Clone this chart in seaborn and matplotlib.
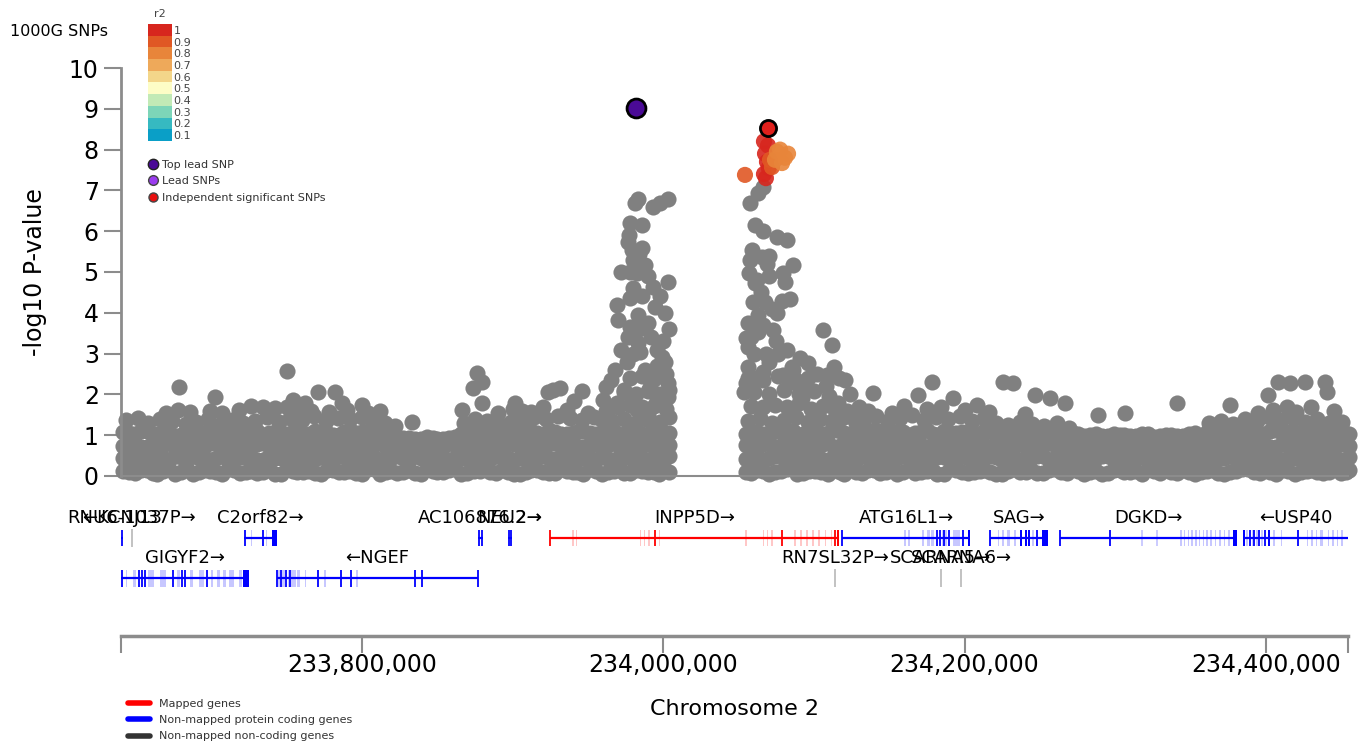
"""
Regional association plot (LocusZoom style) around INPP5D, chromosome 2.
"""

import numpy as np
import pandas as pd
import matplotlib
matplotlib.use("Agg")
import matplotlib.pyplot as plt
from matplotlib.colors import ListedColormap
from matplotlib.lines import Line2D
from matplotlib.ticker import FuncFormatter
import seaborn as sns

# every position below is a kb offset from chr2:233,600,000
ORIGIN_KB = 233600
XLIM_KB = (40, 854.5)

# ---- dense background band of SNPs (-log10 P below ~1.6) ----
band_kb_a = [41, 49, 57, 64, 72, 80, 88, 95, 103, 111, 119, 126, 134, 142, 150, 157, 165, 173, 181, 188,
             196, 204, 212, 219, 227, 235, 243, 250, 258, 266, 274, 281, 289, 297, 305, 312, 320, 328, 336, 343,
             351, 359, 367, 374, 382, 390, 397, 404,
             455, 462, 470, 478, 486, 493, 501, 509, 517, 524, 532, 540, 548, 555, 563, 571, 579, 586, 594, 602,
             610, 617, 625, 633, 641, 648, 656, 664, 672, 679, 687, 695, 703, 710, 718, 726, 734, 741, 749, 757,
             765, 772, 780, 788, 796, 803, 811, 819, 827, 834, 842, 850, 855]
band_kb_b = [45, 53, 61, 68, 76, 84, 92, 99, 107, 115, 123, 130, 138, 146, 154, 161, 169, 177, 185, 192,
             200, 208, 216, 223, 231, 239, 247, 254, 262, 270, 278, 285, 293, 301, 309, 316, 324, 332, 340, 347,
             355, 363, 371, 378, 386, 394, 401,
             458, 466, 474, 482, 489, 497, 505, 513, 520, 528, 536, 544, 551, 559, 567, 575, 582, 590, 598, 606,
             613, 621, 629, 637, 644, 652, 660, 668, 675, 683, 691, 699, 706, 714, 722, 730, 737, 745, 753, 761,
             768, 776, 784, 792, 799, 807, 815, 823, 830, 838, 846, 853]
# rows on band_kb_a
band_lp_1 = [0.12, 0.08, 0.15, 0.06, 0.18, 0.10, 0.05, 0.14, 0.09, 0.17, 0.07, 0.13, 0.11, 0.04, 0.16, 0.09,
             0.12, 0.06, 0.15, 0.10, 0.08, 0.18, 0.05, 0.13, 0.11, 0.07, 0.16, 0.09, 0.14, 0.06, 0.12, 0.17,
             0.08, 0.10, 0.05, 0.15, 0.11, 0.07, 0.13, 0.09, 0.16, 0.06, 0.12, 0.08, 0.14, 0.10, 0.05, 0.11,
             0.09, 0.15, 0.06, 0.12, 0.18, 0.08, 0.13, 0.05, 0.10, 0.16, 0.07, 0.14, 0.11, 0.06, 0.17, 0.09,
             0.12, 0.05, 0.15, 0.08, 0.13, 0.10, 0.06, 0.16, 0.11, 0.07, 0.14, 0.09, 0.18, 0.05, 0.12, 0.08,
             0.15, 0.10, 0.06, 0.13, 0.17, 0.07, 0.11, 0.09, 0.14, 0.05, 0.12, 0.16, 0.08, 0.10, 0.15, 0.06,
             0.13, 0.09, 0.11, 0.07, 0.14]
band_lp_3 = [0.74, 0.79, 0.71, 0.77, 0.82, 0.73, 0.76, 0.70, 0.80, 0.75, 0.78, 0.72, 0.81, 0.74, 0.70, 0.79,
             0.76, 0.73, 0.82, 0.71, 0.77, 0.75, 0.80, 0.72, 0.74, 0.78, 0.70, 0.76, 0.81, 0.73, 0.79, 0.71,
             0.75, 0.82, 0.74, 0.77, 0.72, 0.80, 0.76, 0.70, 0.78, 0.73, 0.81, 0.75, 0.71, 0.79, 0.74, 0.77,
             0.76, 0.72, 0.80, 0.74, 0.71, 0.78, 0.75, 0.82, 0.73, 0.70, 0.79, 0.76, 0.72, 0.81, 0.74, 0.77,
             0.70, 0.78, 0.75, 0.73, 0.80, 0.71, 0.76, 0.79, 0.74, 0.72, 0.82, 0.75, 0.70, 0.77, 0.73, 0.80,
             0.76, 0.71, 0.78, 0.74, 0.81, 0.72, 0.75, 0.79, 0.70, 0.77, 0.73, 0.80, 0.76, 0.72, 0.78, 0.74,
             0.81, 0.71, 0.75, 0.79, 0.73]
band_lp_5 = [0.45, 0.41, 0.48, 0.43, 0.39, 0.46, 0.50, 0.42, 0.44, 0.40, 0.47, 0.43, 0.38, 0.45, 0.49, 0.41,
             0.44, 0.47, 0.40, 0.46, 0.42, 0.48, 0.39, 0.45, 0.43, 0.50, 0.41, 0.46, 0.38, 0.44, 0.47, 0.40,
             0.49, 0.43, 0.45, 0.39, 0.48, 0.42, 0.46, 0.41, 0.44, 0.50, 0.38, 0.47, 0.43, 0.40, 0.45, 0.48,
             0.41, 0.46, 0.43, 0.49, 0.39, 0.44, 0.47, 0.40, 0.45, 0.42, 0.48, 0.38, 0.46, 0.43, 0.50, 0.41,
             0.44, 0.47, 0.39, 0.45, 0.42, 0.48, 0.40, 0.46, 0.43, 0.49, 0.38, 0.44, 0.47, 0.41, 0.45, 0.50,
             0.39, 0.43, 0.46, 0.40, 0.48, 0.42, 0.44, 0.47, 0.38, 0.45, 0.41, 0.49, 0.43, 0.46, 0.40, 0.44,
             0.48, 0.42, 0.45, 0.39, 0.47]
band_lp_8 = [1.07, 1.02, 1.10, 1.04, 1.08, 1.00, 1.11, 1.05, 1.09, 1.03, 1.06, 1.12, 1.01, 1.08, 1.04, 1.10,
             1.03, 1.07, 1.00, 1.09, 1.05, 1.11, 1.02, 1.06, 0.93, 0.90, 0.95, 0.91, 0.94, 1.04, 1.10, 1.06,
             1.02, 1.08, 1.05, 1.11, 1.00, 1.07, 1.03, 1.09, 1.06, 1.02, 1.10, 1.04, 1.08, 1.01, 1.07, 1.05,
             1.04, 1.09, 1.01, 1.07, 1.11, 1.03, 1.08, 1.05, 1.10, 1.02, 1.06, 1.12, 1.04, 1.09, 1.00, 1.07,
             1.03, 1.10, 1.05, 1.08, 1.02, 1.11, 1.06, 1.04, 1.09, 1.01, 1.07, 1.03, 1.05, 0.99, 1.02, 0.97,
             1.00, 0.98, 1.03, 0.96, 1.01, 0.99, 1.02, 0.98, 1.06, 1.10, 1.04, 1.08, 1.03, 1.11, 1.05, 1.09,
             1.02, 1.07, 1.04, 1.08, 1.03]
# rows on band_kb_b
band_lp_2 = [0.42, 0.47, 0.39, 0.45, 0.50, 0.41, 0.44, 0.38, 0.48, 0.43, 0.46, 0.40, 0.49, 0.44, 0.39, 0.47,
             0.42, 0.45, 0.50, 0.41, 0.38, 0.46, 0.43, 0.48, 0.40, 0.44, 0.47, 0.39, 0.45, 0.42, 0.49, 0.41,
             0.46, 0.38, 0.44, 0.48, 0.43, 0.40, 0.47, 0.45, 0.39, 0.42, 0.50, 0.44, 0.41, 0.46, 0.43,
             0.45, 0.40, 0.48, 0.43, 0.39, 0.46, 0.42, 0.49, 0.44, 0.38, 0.47, 0.41, 0.45, 0.50, 0.43, 0.40,
             0.46, 0.39, 0.48, 0.42, 0.44, 0.47, 0.41, 0.38, 0.45, 0.49, 0.43, 0.40, 0.46, 0.42, 0.48, 0.39,
             0.44, 0.47, 0.41, 0.45, 0.50, 0.43, 0.38, 0.46, 0.42, 0.48, 0.40, 0.44, 0.47, 0.39, 0.45, 0.41,
             0.49, 0.43, 0.46, 0.40]
band_lp_4 = [1.05, 1.10, 1.01, 1.08, 0.99, 1.12, 1.04, 1.07, 1.00, 1.09, 1.03, 1.11, 1.06, 0.98, 1.08, 1.02,
             1.10, 1.05, 1.01, 1.12, 1.07, 1.03, 1.09, 0.95, 0.92, 0.90, 0.94, 0.91, 0.96, 1.08, 1.11, 1.04,
             1.07, 1.00, 1.09, 1.05, 1.12, 1.02, 1.06, 1.10, 1.03, 1.08, 1.01, 1.07, 1.04, 1.11, 1.05,
             1.08, 1.02, 1.11, 1.05, 1.00, 1.09, 1.04, 1.12, 1.06, 1.01, 1.07, 1.10, 1.03, 1.08, 1.05, 1.12,
             1.00, 1.06, 1.09, 1.02, 1.11, 1.04, 1.07, 1.01, 1.10, 1.03, 1.06, 0.99, 1.04, 1.01, 0.98, 1.03,
             1.00, 0.97, 1.02, 0.99, 1.01, 0.98, 1.05, 1.08, 1.03, 1.10, 1.06, 1.09, 1.04, 1.12, 1.07, 1.02,
             1.10, 1.05, 1.08, 1.03]
band_lp_6 = [0.10, 0.15, 0.07, 0.13, 0.05, 0.17, 0.09, 0.12, 0.06, 0.14, 0.11, 0.08, 0.16, 0.04, 0.13, 0.10,
             0.07, 0.15, 0.09, 0.12, 0.06, 0.17, 0.11, 0.08, 0.14, 0.05, 0.13, 0.10, 0.16, 0.07, 0.12, 0.09,
             0.15, 0.06, 0.11, 0.14, 0.08, 0.17, 0.10, 0.05, 0.13, 0.09, 0.16, 0.07, 0.12, 0.10, 0.15,
             0.08, 0.13, 0.10, 0.16, 0.06, 0.12, 0.09, 0.15, 0.05, 0.11, 0.14, 0.07, 0.17, 0.10, 0.08, 0.13,
             0.06, 0.16, 0.11, 0.09, 0.15, 0.05, 0.12, 0.10, 0.14, 0.07, 0.17, 0.08, 0.13, 0.11, 0.06, 0.15,
             0.09, 0.12, 0.16, 0.07, 0.10, 0.14, 0.05, 0.13, 0.08, 0.11, 0.17, 0.09, 0.15, 0.06, 0.12, 0.10,
             0.14, 0.07, 0.16, 0.11]
band_lp_7 = [0.77, 0.72, 0.80, 0.75, 0.70, 0.78, 0.74, 0.81, 0.73, 0.76, 0.71, 0.79, 0.75, 0.82, 0.72, 0.77,
             0.74, 0.70, 0.80, 0.76, 0.73, 0.78, 0.71, 0.75, 0.79, 0.74, 0.82, 0.72, 0.77, 0.70, 0.76, 0.80,
             0.73, 0.78, 0.75, 0.71, 0.81, 0.74, 0.77, 0.72, 0.79, 0.75, 0.70, 0.78, 0.73, 0.80, 0.76,
             0.74, 0.79, 0.71, 0.77, 0.82, 0.73, 0.76, 0.70, 0.80, 0.75, 0.72, 0.78, 0.74, 0.81, 0.76, 0.71,
             0.79, 0.73, 0.77, 0.70, 0.75, 0.80, 0.72, 0.78, 0.74, 0.82, 0.76, 0.71, 0.79, 0.73, 0.77, 0.70,
             0.75, 0.81, 0.72, 0.78, 0.74, 0.80, 0.76, 0.71, 0.79, 0.73, 0.77, 0.82, 0.75, 0.70, 0.78, 0.74,
             0.80, 0.72, 0.76, 0.79]

# upper edge of the band
top_kb = [43, 51, 58, 66, 74, 83, 90, 98, 106, 114, 121, 129, 137, 145, 152, 160, 168, 176, 184, 192,
          200, 208, 215, 222, 268, 275, 283, 291, 299, 307, 314, 322, 330, 338, 346, 354, 362,
          70, 78, 86, 99, 107, 118, 126, 134, 142, 150, 158, 166, 178, 190, 204, 212, 290, 300, 312, 320,
          336, 350,
          533, 541, 549, 557, 565, 573, 581, 589, 597, 605, 613, 621, 629, 637, 645, 653, 661, 669,
          762, 770, 778, 786, 794, 802, 810, 818, 826, 834, 842, 850,
          536, 552, 560, 575, 584, 600, 608, 616, 640, 795, 805, 820, 830, 845]
top_lp = [1.38, 1.42, 1.30, 1.40, 1.35, 1.28, 1.33, 1.40, 1.25, 1.37, 1.30, 1.36, 1.44, 1.32, 1.41, 1.38,
          1.46, 1.35, 1.42, 1.39, 1.45, 1.33, 1.30, 1.22, 1.30, 1.40, 1.35, 1.28, 1.33, 1.37, 1.45, 1.40,
          1.48, 1.42, 1.38, 1.45, 1.50,
          1.55, 1.62, 1.58, 1.60, 1.55, 1.62, 1.72, 1.70, 1.66, 1.70, 1.64, 1.60, 1.58, 1.62, 1.55, 1.60,
          1.55, 1.65, 1.58, 1.70, 1.62, 1.55,
          1.40, 1.47, 1.35, 1.42, 1.50, 1.38, 1.44, 1.40, 1.47, 1.36, 1.42, 1.30, 1.25, 1.33, 1.28, 1.22,
          1.30, 1.18,
          1.30, 1.36, 1.28, 1.40, 1.35, 1.45, 1.38, 1.42, 1.33, 1.40, 1.30, 1.25,
          1.60, 1.55, 1.72, 1.65, 1.70, 1.62, 1.74, 1.58, 1.52, 1.55, 1.62, 1.58, 1.68, 1.60]

# isolated SNPs sticking out above the band
outlier_kb = [78.5, 102.4, 150.2, 154.2, 162.1, 170.8, 182.1, 186.7, 200, 233.2, 273.7, 276.3, 279.6,
              279.6, 266.4, 301.5, 306.2, 323.4, 326.8, 331.4, 346, 341, 360,
              520.6, 527.2, 539.2, 578.3, 569, 592.3, 625.5, 632.1, 646.7, 656.7, 666.6, 688.5, 706.5,
              741, 776.2, 801.4, 808, 816, 826, 839.2, 840.6, 814, 850.6]
outlier_lp = [2.18, 1.94, 2.57, 1.86, 1.80, 2.06, 2.06, 1.79, 1.75, 1.32, 2.16, 2.52, 2.30,
              1.80, 1.62, 1.79, 1.60, 2.06, 2.10, 2.16, 2.08, 1.85, 1.86,
              2.35, 1.37, 2.03, 2.30, 1.98, 1.90, 2.30, 2.27, 1.98, 1.90, 1.80, 1.50, 1.55,
              1.79, 1.75, 1.98, 2.30, 2.27, 2.30, 2.30, 2.06, 1.69, 1.32]

# first association peak (left of INPP5D promoter)
left_peak_kb = [383.2, 381.2, 393.1, 403.1, 397.8, 385.8, 376.6, 379.2, 379.9, 387.8, 382.5, 393.1, 403.1,
                377.9, 369.2, 394.5, 401.1, 383.2, 369.8, 377.9, 389.8, 376.6, 383.2, 384.5, 399.1, 401.1,
                375.9, 387.8, 365.2, 361.9, 373.9, 391.1, 395.8, 369.2, 382.5, 403.1, 403.1, 359.2, 389.8,
                378, 380, 386, 384, 392, 396, 380, 377, 384,
                366, 374, 382, 390, 398, 404, 370, 378, 386, 394, 402, 374, 382, 390, 398, 378, 386, 394, 402,
                368, 372, 396, 400, 404, 372, 378, 386, 390, 398, 362, 404]
left_peak_lp = [6.80, 6.70, 6.60, 6.80, 6.70, 6.15, 5.74, 5.54, 5.30, 5.17, 4.97, 4.64, 4.75,
                4.36, 4.19, 4.15, 3.99, 3.95, 3.82, 3.66, 3.75, 3.41, 3.26, 3.04, 2.92, 2.79,
                2.79, 2.60, 2.35, 2.18, 2.10, 2.18, 1.86, 1.80, 1.62, 2.28, 1.94, 1.37, 1.50,
                5.00, 4.60, 4.40, 3.60, 3.40, 3.10, 3.00, 5.90, 5.45,
                1.35, 1.40, 1.30, 1.38, 1.32, 1.45, 1.70, 1.75, 1.68, 1.72, 1.65, 2.05, 2.00, 2.08, 2.02,
                2.40, 2.45, 2.38, 2.50,
                2.60, 3.10, 2.70, 3.30, 3.60, 5.00, 6.20, 5.60, 4.90, 4.40, 1.60, 2.10]

# second peak (inside INPP5D), grey = no LD information shown
right_peak_kb = [466.2, 462.8, 457.5, 460.9, 475.4, 482.1, 457.5, 465.4, 468.8, 456.8, 460.9, 479.4, 486.1,
                 480.8, 459.5, 467.5, 478.8, 484.1, 475.4, 462.8, 456.2, 472.8, 454.9, 462.8, 456.2, 506,
                 512, 456.2, 466.2, 490.7, 496, 485.4, 479.4, 488.1, 491.4, 513.3, 508.6, 516.6, 454.9,
                 453.5, 459, 470, 465, 475, 468, 482, 460,
                 456, 464, 472, 480, 488, 496, 504, 512, 520, 528, 458, 466, 474, 482, 490, 498, 506, 514,
                 522, 460, 470, 480, 490, 500, 510, 456, 466, 476, 486, 496,
                 492, 500, 508, 516, 524, 530, 486, 494, 502, 470, 462, 476, 458, 466, 472, 462, 470, 466]
right_peak_lp = [7.08, 6.93, 6.69, 6.15, 5.86, 5.78, 5.30, 5.37, 5.20, 4.97, 4.73, 4.97, 5.17,
                 4.75, 4.26, 4.26, 4.30, 4.35, 4.00, 3.95, 3.75, 3.58, 3.38, 3.53, 3.16, 3.58,
                 3.20, 2.67, 2.55, 2.89, 2.77, 2.67, 2.47, 2.35, 2.18, 2.67, 2.47, 2.40, 2.28,
                 2.06, 5.55, 4.90, 4.50, 3.30, 3.00, 3.10, 3.00,
                 1.35, 1.42, 1.30, 1.38, 1.45, 1.33, 1.40, 1.36, 1.44, 1.30, 1.72, 1.68, 1.75, 1.70,
                 1.78, 1.65, 1.72, 1.62, 1.60, 2.05, 2.00, 2.10, 2.02, 2.08, 1.95, 2.40, 2.35, 2.45,
                 2.30, 2.40,
                 1.90, 1.60, 2.20, 1.80, 2.00, 1.70, 2.60, 2.30, 2.50, 2.80, 2.40, 3.00, 3.40, 3.70,
                 4.10, 4.80, 5.40, 6.00]

# SNPs in LD with the independent significant SNP
ld_kb = [466.8, 469.5, 467.5, 468.8, 466.8, 468.1, 470.0, 454.2, 472.1, 470.8,
         475.4, 480.8, 478.8, 482.8, 474.1, 477.5]
ld_lp = [8.20, 8.10, 7.90, 7.70, 7.40, 7.30, 7.55, 7.38, 7.57, 7.75,
         7.95, 7.80, 7.67, 7.90, 7.75, 8.00]
ld_r2 = ["1", "1", "1", "1", "1", "1", "1", "0.9", "0.9", "0.9",
         "0.8", "0.8", "0.8", "0.8", "0.8", "0.8"]

top_lead_kb, top_lead_lp = [381.9], [9.02]
indep_kb, indep_lp = [469.5], [8.53]

r2_levels = ["0.1", "0.2", "0.3", "0.4", "0.5", "0.6", "0.7", "0.8", "0.9", "1"]
r2_colors = ["#0a9fc7", "#36b9c1", "#7dd5b8", "#c2eab6", "#fdfdc6",
             "#f3d68a", "#eea95a", "#e8853a", "#e05824", "#d7261e"]

# ---- genes ----
gene_names = ["KCNJ13", "RNU6-1037P", "C2orf82", "AC106876.2", "NEU2", "INPP5D", "ATG16L1", "SAG",
              "DGKD", "USP40", "GIGYF2", "NGEF", "RN7SL32P", "SCARNA5", "SCARNA6"]
gene_start = [20, 47.0, 121.8, 277.2, 297.1, 324.8, 518.6, 616.8, 663.3, 784.8, -38, 143.4, 513.9, 584.2, 597.5]
gene_end = [41, 47.2, 143.3, 280.1, 299.3, 516.6, 603.6, 655.4, 780.8, 875, 125.3, 277.2, 514.2, 584.4, 597.7]
gene_strand = ["-", "+", "+", "+", "+", "+", "+", "+", "+", "-", "+", "-", "+", "+", "+"]
gene_row = [1, 1, 1, 1, 1, 1, 1, 1, 1, 1, 2, 2, 2, 2, 2]
gene_kind = ["coding", "noncoding", "coding", "coding", "coding", "mapped", "coding", "coding",
             "coding", "coding", "coding", "coding", "noncoding", "noncoding", "noncoding"]

gene_exons = {
    "KCNJ13": [(40.3, 40.8)],
    "GIGYF2": [(40.5, 41), (51.5, 52), (53.7, 54.3), (55.5, 56), (74.5, 75), (80.3, 80.8), (82.2, 82.7),
               (97, 97.5), (121.3, 125.3)],
    "C2orf82": [(121.8, 122.2), (134, 134.4), (140.4, 143.3)],
    "NGEF": [(143.4, 143.8), (146, 146.5), (149.5, 150), (152, 152.4), (170.5, 171), (186, 186.5),
             (192.6, 193), (235.2, 235.6), (239.6, 240), (276.9, 277.3)],
    "AC106876.2": [(277.2, 277.6), (279.7, 280.1)],
    "NEU2": [(297.1, 297.5), (298.9, 299.3)],
    "INPP5D": [(324.8, 325.3), (394.2, 394.7), (478.4, 478.9), (513.6, 514.2), (515.6, 516.6)],
    "ATG16L1": [(518.6, 519), (581.4, 581.9), (583.2, 583.7), (586, 586.5), (589.5, 590), (599, 599.5),
                (602, 603.6)],
    "SAG": [(616.8, 617.2), (636.6, 638), (640, 641.2), (642.4, 643.6), (648, 648.5), (651.4, 655.4)],
    "DGKD": [(663.3, 663.8), (696.3, 696.8), (778, 780.8)],
    "USP40": [(784.8, 786.1), (789.4, 790), (792, 792.6), (795, 795.6), (799, 799.5), (801.5, 802.7),
              (821, 821.5)],
}
gene_faint_exons = {
    "GIGYF2": [(43, 44), (48, 50), (58, 62), (66, 70), (77, 79), (86, 88), (92, 95), (100, 101), (104, 106),
               (108, 110), (112, 115), (118, 120)],
    "C2orf82": [(126, 127), (136, 137)],
    "NGEF": [(144.5, 145.5), (147, 149), (151, 152), (153, 156), (157, 159), (162, 163), (175, 176), (196, 197)],
    "INPP5D": [(339.5, 340.5), (341.8, 342.6), (384.5, 385.5), (387, 388), (390, 391), (397, 398),
               (454, 455.5), (466, 467), (468.5, 469.5), (471.5, 472.8), (487, 488), (491, 492), (495, 496),
               (499, 500), (503, 504), (507, 508), (511, 512)],
    "ATG16L1": [(560, 561), (562.5, 563.7), (572, 573), (575, 577), (578, 579.5), (585, 588), (592, 597)],
    "SAG": [(622, 623), (625, 626), (628, 630), (633, 634), (645, 646)],
    "DGKD": [(717.5, 718), (727.5, 728), (743, 744), (745.5, 746.5), (748, 749), (750.5, 751.5), (753, 754),
             (755.5, 756.5), (758, 759), (760.5, 761.5), (763, 764), (766, 767), (769, 770), (772, 773),
             (775, 776)],
    "USP40": [(787, 788), (791, 792), (793.5, 794.5), (797, 798), (805, 806), (810, 811), (827, 828),
              (830, 831), (833, 834), (836, 838), (841, 842), (844, 845), (847, 848), (850, 851.3)],
}


def to_bp(kb):
    return (ORIGIN_KB + np.asarray(kb, dtype=float)) * 1000


W, H = 1363, 751


def px_box(x0, y0, x1, y1):
    # figure-fraction rect from pixel corners (origin top-left)
    return [x0 / W, 1 - y1 / H, (x1 - x0) / W, (y1 - y0) / H]


sns.set_style("ticks")
plt.rcParams["font.family"] = ["DejaVu Sans"]
plt.rcParams.update({"text.color": "black", "axes.labelcolor": "black",
                     "xtick.labelcolor": "black", "ytick.labelcolor": "black"})

GREY = "#808080"
SPINE = "#8c8c8c"
kind_colors = {"mapped": "#ff0000", "coding": "#0000ff", "noncoding": "#9a9a9a"}
DOT = 135

fig = plt.figure(figsize=(13.63, 7.51), dpi=100)
ax = fig.add_axes(px_box(121, 68, 1348, 476))
gx = fig.add_axes(px_box(121, 495, 1348, 636))
xlim = (to_bp(XLIM_KB[0]), to_bp(XLIM_KB[1]))

# ---- association panel ----
a_rows = band_lp_1 + band_lp_3 + band_lp_5 + band_lp_8
b_rows = band_lp_2 + band_lp_4 + band_lp_6 + band_lp_7
grey = pd.DataFrame({
    "pos": to_bp(band_kb_a * 4 + band_kb_b * 4 + top_kb + outlier_kb + left_peak_kb + right_peak_kb),
    "logp": a_rows + b_rows + top_lp + outlier_lp + left_peak_lp + right_peak_lp,
})
sns.scatterplot(data=grey, x="pos", y="logp", color=GREY, s=DOT, linewidth=0,
                ax=ax, clip_on=False, legend=False, zorder=2)

ld = pd.DataFrame({"pos": to_bp(ld_kb), "logp": ld_lp, "r2": ld_r2})
sns.scatterplot(data=ld, x="pos", y="logp", hue="r2", palette=dict(zip(r2_levels, r2_colors)),
                s=DOT, linewidth=0, alpha=0.9, ax=ax, clip_on=False, legend=False, zorder=3)

sns.scatterplot(x=to_bp(indep_kb), y=indep_lp, color="#e0201c", s=DOT, edgecolor="black",
                linewidth=2, ax=ax, clip_on=False, legend=False, zorder=4)
sns.scatterplot(x=to_bp(top_lead_kb), y=top_lead_lp, color="#4a0a96", s=185, edgecolor="black",
                linewidth=2, ax=ax, clip_on=False, legend=False, zorder=4)

ax.set_xlim(xlim)
ax.set_ylim(0, 10)
ax.set_yticks(range(11))
ax.tick_params(axis="y", left=True, length=12, width=1.5, color=SPINE, labelsize=17, pad=4,
               labelcolor="black")
ax.tick_params(axis="x", bottom=False, labelbottom=False)
for side in ["top", "right"]:
    ax.spines[side].set_visible(False)
ax.spines["left"].set(color=SPINE, linewidth=2)
ax.spines["bottom"].set(color=SPINE, linewidth=1.5)
ax.set_xlabel("")
ax.set_ylabel("-log10 P-value", fontsize=17)
ax.yaxis.set_label_coords(-0.060, 0.5)

# ---- gene track ----
row_y = {1: 0.695, 2: 0.411}
half_h = 0.06
for name, start, end, strand, row, kind in zip(gene_names, gene_start, gene_end,
                                               gene_strand, gene_row, gene_kind):
    color = kind_colors[kind]
    y = row_y[row]
    s, e = max(start, XLIM_KB[0]), min(end, XLIM_KB[1])
    if kind == "noncoding":
        gx.vlines(to_bp((s + e) / 2), y - 0.065, y + 0.065, color=color, lw=1.2, alpha=0.7)
    else:
        gx.hlines(y, to_bp(s), to_bp(e), color=color, lw=1.6)
        for exons, alpha in [(gene_faint_exons.get(name, []), 0.22), (gene_exons.get(name, []), 1.0)]:
            for a, b in exons:
                a, b = max(a, XLIM_KB[0]), min(b, XLIM_KB[1])
                if b - a < 0.8:
                    gx.vlines(to_bp((a + b) / 2), y - half_h, y + half_h, color=color, lw=1.3, alpha=alpha)
                else:
                    gx.fill_between(to_bp([a, b]), y - half_h, y + half_h, color=color, alpha=alpha, lw=0)
    label = f"{name}\u2192" if strand == "+" else f"\u2190{name}"
    gx.text(to_bp((s + e) / 2), y + 0.145, label, ha="center", va="center", fontsize=13, color="black")

gx.set_xlim(xlim)
gx.set_ylim(0, 1)
gx.set_yticks([])
gx.set_xticks(to_bp([200, 400, 600, 800]))
gx.set_xticks(list(xlim), minor=True)
gx.xaxis.set_major_formatter(FuncFormatter(lambda v, _: f"{int(round(v)):,}"))
gx.tick_params(axis="x", which="both", bottom=True, length=12, width=1.5, color=SPINE,
               labelsize=17, pad=0, labelcolor="black")
for side in ["top", "right", "left"]:
    gx.spines[side].set_visible(False)
gx.spines["bottom"].set(color=SPINE, linewidth=2.5)
gx.set_xlabel("Chromosome 2", fontsize=16)
gx.xaxis.set_label_coords(0.5, -0.45)

# ---- r2 colour key ----
fig.text(10 / W, 1 - 31 / H, "1000G SNPs", fontsize=11.5, va="center", ha="left")
cax = fig.add_axes(px_box(148, 24, 172, 141))
cax.imshow(np.arange(len(r2_levels))[::-1].reshape(-1, 1), cmap=ListedColormap(r2_colors),
           aspect="auto", interpolation="nearest")
cax.set_xticks([])
cax.set_yticks(range(len(r2_levels)))
cax.set_yticklabels(r2_levels[::-1])
cax.yaxis.tick_right()
cax.tick_params(axis="y", length=0, pad=1, labelsize=8, labelcolor="#444444")
for sp in cax.spines.values():
    sp.set_visible(False)
cax.set_title("r2", fontsize=8, pad=5, color="#444444")

snp_handles = [
    Line2D([], [], ls="", marker="o", markersize=7.5, markerfacecolor="#4a0a96",
           markeredgecolor="#222222", label="Top lead SNP"),
    Line2D([], [], ls="", marker="o", markersize=7, markerfacecolor="#9b3cf0",
           markeredgecolor="#444444", label="Lead SNPs"),
    Line2D([], [], ls="", marker="o", markersize=6.5, markerfacecolor="#e81010",
           markeredgecolor="#444444", label="Independent significant SNPs"),
]
fig.legend(handles=snp_handles, loc="upper left", bbox_to_anchor=(140 / W, 1 - 154 / H), frameon=False,
           fontsize=8, handletextpad=0.1, labelspacing=0.6, borderpad=0, handlelength=1.4,
           labelcolor="#333333")

gene_handles = [
    Line2D([], [], color="#ff0000", lw=4, label="Mapped genes"),
    Line2D([], [], color="#0000ff", lw=4, label="Non-mapped protein coding genes"),
    Line2D([], [], color="#333333", lw=4, label="Non-mapped non-coding genes"),
]
fig.legend(handles=gene_handles, loc="lower left", bbox_to_anchor=(122 / W, 4 / H), frameon=False,
           fontsize=8, handlelength=2.0, handletextpad=0.8, labelspacing=0.55, borderpad=0,
           labelcolor="#333333")

fig.savefig("out.png", dpi=100)
plt.close(fig)
